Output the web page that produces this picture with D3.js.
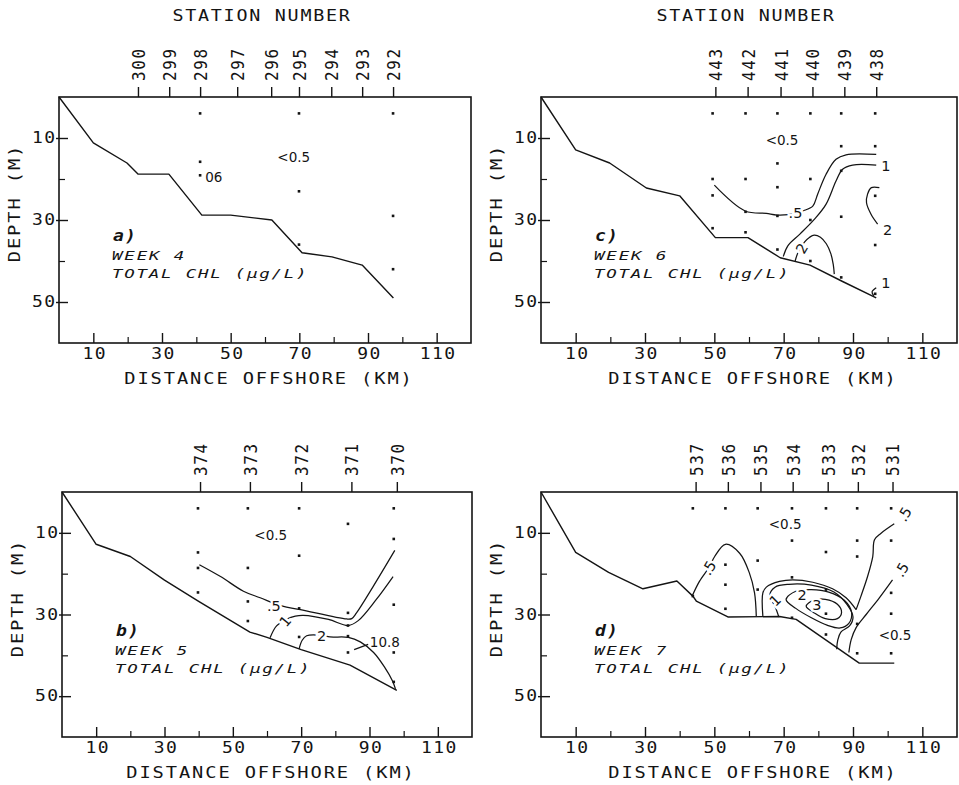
<!DOCTYPE html>
<html><head><meta charset="utf-8">
<script src="https://cdn.jsdelivr.net/npm/d3@7"></script>
<style>
body{margin:0;background:#fff;}
svg{display:block;background:#fff;}
</style></head><body>
<svg id="chart" width="959" height="785"></svg>
<script>
// ---------------- data ----------------
const xMajorTicks = [10,30,50,70,90,110];
const xMinorTicks = [20,40,60,80,100];
const yMajorTicks = [10,30,50];
const yMinorTicks = [20,40];

// panel a) week 4
const stationsA = ["300","299","298","297","296","295","294","293","292"];
const stationKmA = [23.0,32.1,41.1,51.9,61.8,69.9,79.3,88.3,97.3];
const bottomA = [[0,0],[10,11.2],[19.8,16.1],[23,18.8],[32,18.8],[41.6,28.8],[50,28.8],[62,30],[70.8,38],[79.5,39],[88.3,41],[97.4,49]];
const samplesA = [[41.1,4],[41.1,15.8],[41.1,19.1],[69.9,4],[69.9,23],[69.9,36],[97.3,4],[97.3,29],[97.3,42]];
const contoursA = [];
const labelsA = [
  {text:"<0.5", km:63.6, depth:15.9},
  {text:"06", km:42.6, depth:20.8}
];

// panel b) week 5
const stationsB = ["374","373","372","371","370"];
const stationKmB = [40.4,55,70,84.7,98];
const bottomB = [[0,0],[10,12.8],[20,15.8],[30,21.6],[40,26.8],[50,31.8],[55,34.3],[60,35.6],[70,38.6],[84.3,42.4],[98,48.6]];
const samplesB = [[39.8,4],[39.8,14.8],[39.8,18.6],[39.8,24.6],[54.4,4],[54.4,18.6],[54.4,26.8],[54.4,31.6],[69.4,4],[69.4,15.6],[69.4,28.5],[69.4,35.5],[83.7,7.8],[83.7,29.6],[83.7,32.7],[83.7,35.3],[83.7,39.3],[97.1,4],[97.1,11.5],[97.1,27.6],[97.1,39.3],[97.1,46.5]];
const contoursB = [
  {level:".5", pts:[[40.2,17.8],[46.4,20.7],[53.1,24.3],[58,25.9],[64.3,27.9],[69.8,28.8],[83.3,31.1],[84.8,31],[86.2,29.6],[91.1,23.1],[97.4,14.3]]},
  {level:"1", pts:[[60.9,35.7],[62.8,32.8],[65.7,31.2],[68.3,30.4],[70.6,30.2],[78,31.2],[83.8,32.7],[86.7,31.5],[92,26.3],[96.9,20.7]]},
  {level:"2", pts:[[69.4,38.4],[70.3,36.3],[71.6,35.2],[76,35.1],[78.4,35.5],[83.8,35.6],[87.3,36.7],[91.2,39.3],[94.5,43],[96.7,46.2],[97.6,48.2]]},
  {level:"leader", pts:[[85.5,38.6],[89.6,37.3]]}
];
const labelsB = [
  {text:"<0.5", km:56.3, depth:11.7},
  {text:".5", km:62, depth:27.8, halo:true, mid:true},
  {text:"1", km:65.3, depth:31.6, halo:true, mid:true, rot:-50},
  {text:"2", km:76, depth:35.3, halo:true, mid:true},
  {text:"10.8", km:90.1, depth:38}
];

// panel c) week 6
const stationsC = ["443","442","441","440","439","438"];
const stationKmC = [50.3,59.6,69.1,78.3,87.5,96.7];
const bottomC = [[0,0],[10,12.9],[19.8,16.1],[30.4,22.2],[40,24.1],[50.3,34.3],[59.7,34.3],[69,39.2],[77.6,41],[87,45],[96.7,49]];
const samplesC = [[49.5,4],[49.5,20],[49.5,24],[49.5,32],[59,4],[59,20],[59,28],[59,33],[68.2,4],[68.2,16.2],[68.2,22],[68.2,29],[68.2,37.2],[77.7,4],[77.7,20],[77.7,30],[77.7,40],[86.6,4],[86.6,12],[86.6,18],[86.6,29.2],[86.6,44],[96.4,4],[96.4,12],[96.4,24.1],[96.4,36.1],[96.4,48]];
const contoursC = [
  {level:".5", pts:[[50,21.5],[58.9,27.8],[65,28.4],[68.1,28.8],[73.6,28.4],[75.5,27.8],[78.4,26.6],[79.8,23.7],[82.2,18.9],[85.1,15.2],[88,14.1],[96.7,14]]},
  {level:"1", pts:[[96.7,16.6],[89.9,16.6],[87,17.6],[85.1,20.5],[82.2,26.2],[78.9,29.8],[74.6,33.5],[71.2,36.3],[69.9,38.9]]},
  {level:"2", pts:[[73.3,40],[74.3,37.6],[76,35.4],[77.5,34.2],[78.8,33.7],[80.6,34.2],[82.3,35.8],[83.6,38.2],[84.3,40.8],[84.6,43.2]]},
  {level:"2", pts:[[97.6,22.1],[95.3,22.1],[94.2,23.7],[93.9,25.8],[95.2,28.6],[97.1,31]]},
  {level:"1", pts:[[96.7,46.5],[95.5,47.5],[96,48.5]]}
];
const labelsC = [
  {text:"<0.5", km:64.8, depth:11.7},
  {text:".5", km:73.4, depth:28.3, halo:true, mid:true},
  {text:"1", km:99.5, depth:16.8, mid:true},
  {text:"2", km:100, depth:32.3, mid:true},
  {text:"1", km:99.5, depth:45.3, mid:true},
  {text:"2", km:75.2, depth:36.9, halo:true, mid:true, rot:-60}
];

// panel d) week 7
const stationsD = ["537","536","535","534","533","532","531"];
const stationKmD = [44.6,53.9,63.3,72.6,82.7,91.4,101.4];
const bottomD = [[0,0],[10,14.8],[19.5,19.7],[29.4,23.7],[39.2,21.8],[43.8,25.5],[44.8,26.7],[53.9,30.6],[68.8,30.5],[73.6,31.2],[91.8,41.9],[101.9,41.9]];
const samplesD = [[43.8,4],[43.8,25.5],[53.2,4],[53.2,17.8],[53.2,22.7],[53.2,28.6],[62.5,4],[62.5,16.8],[62.5,23.9],[72.4,4],[72.4,11.9],[72.4,20.9],[72.4,30.8],[82.2,4],[82.2,14.7],[82.2,23.9],[82.2,29.8],[82.2,34.9],[91.2,4],[91.2,11.9],[91.2,15.8],[91.2,32.3],[91.2,39.5],[101,4],[101,11.9],[101,24.7],[101,29.8],[101,39.5]];
const contoursD = [
  {level:".5", pts:[[43.6,25.5],[45.7,21.9],[48.6,18.3],[50.1,15.8],[53.2,12.8],[57.3,15],[60.1,19.8],[61.6,24.7],[62.1,30.4]]},
  {level:".5", pts:[[64,30.4],[64,24.7],[65,23.3],[68.8,21.9],[72.6,21.5],[78.4,22.1],[84.1,23.7],[88,25.9],[90.9,28.8]]},
  {level:".5", pts:[[90.9,28.8],[92.3,25.5],[94.2,20.7],[95.7,15.8],[96.2,11.7],[98.1,10.1],[101.9,7.8]]},
  {level:".5", pts:[[88.8,39.3],[89.5,36.1],[90.9,33.2],[93.8,30],[97.6,25.9],[101.4,21.5]]},
  {level:"1", pts:[[68.6,30.6],[67.5,28],[66,25.3],[67.5,23.3],[71.5,22.6],[78,22.8],[84.5,24.5],[88.3,27.6],[90,30.6],[89,32.8],[86.5,34.3],[85.6,36.3],[85.3,38.5]]},
  {level:"2", closed:true, pts:[[70.7,26.3],[73.5,24.3],[78,23.9],[83,24.5],[87.5,26.5],[89.6,29.5],[88.8,32.2],[86.3,33.3],[82.5,32.6],[78,30.8],[73.5,28.5]]},
  {level:"3", closed:true, pts:[[76.5,28],[78.5,26.5],[82,26.3],[85.5,27.5],[86.7,29.5],[85.5,31],[82,31],[78.8,29.6]]}
];
const labelsD = [
  {text:"<0.5", km:65.7, depth:9},
  {text:"<0.5", km:97.4, depth:36.3},
  {text:".5", km:48.4, depth:18.6, halo:true, mid:true, rot:-60},
  {text:".5", km:104.8, depth:5.4, mid:true, rot:-60},
  {text:".5", km:104, depth:19, mid:true, rot:-60},
  {text:"1", km:67.5, depth:26.5, halo:true, mid:true, rot:-45},
  {text:"2", km:75.3, depth:25.1, halo:true, mid:true},
  {text:"3", km:79.6, depth:27.7, halo:true, mid:true}
];

// ---------------- layout ----------------
const panels = [
  {tag:"a)", week:"WEEK 4", left:59, right:471, top:97, bottom:343, stations:stationsA, stationKm:stationKmA, bottomLine:bottomA, samples:samplesA, contours:contoursA, labels:labelsA, stationTitle:true},
  {tag:"b)", week:"WEEK 5", left:62, right:472, top:492, bottom:737, stations:stationsB, stationKm:stationKmB, bottomLine:bottomB, samples:samplesB, contours:contoursB, labels:labelsB, stationTitle:false},
  {tag:"c)", week:"WEEK 6", left:541, right:957, top:97, bottom:343, stations:stationsC, stationKm:stationKmC, bottomLine:bottomC, samples:samplesC, contours:contoursC, labels:labelsC, stationTitle:true},
  {tag:"d)", week:"WEEK 7", left:541, right:957, top:492, bottom:737, stations:stationsD, stationKm:stationKmD, bottomLine:bottomD, samples:samplesD, contours:contoursD, labels:labelsD, stationTitle:false}
];

const MONO = "'DejaVu Sans Mono', 'Liberation Mono', monospace";
const SANS = "'DejaVu Sans', 'Liberation Sans', sans-serif";
const INK = "#141414";

const svg = d3.select("#chart");

// text drawn with a horizontal stretch (plotter lettering is wider than tall)
function wideText(g, x, y, str, o) {
  const t = g.append("text")
    .attr("transform", `translate(${x},${y})` + (o.rot ? ` rotate(${o.rot})` : "") + ` scale(${o.sx || 1},1)`)
    .attr("font-family", o.family || MONO).attr("font-size", o.size)
    .attr("letter-spacing", o.ls || 0).attr("fill", INK)
    .attr("text-anchor", o.anchor || "start").text(str);
  if (o.italic) t.attr("font-style", "italic");
  if (o.bold) t.attr("font-weight", "bold");
  return t;
}

panels.forEach(p => {
  const x = d3.scaleLinear().domain([0,120]).range([p.left, p.right]);
  const y = d3.scaleLinear().domain([0,60]).range([p.top, p.bottom]);
  const g = svg.append("g");

  // bottom axis: major ticks with labels, minor without (ticks point inward)
  const bx = g.append("g").attr("transform", `translate(0,${p.bottom})`)
    .call(d3.axisBottom(x).tickValues(xMajorTicks).tickSizeInner(-10).tickSizeOuter(0).tickPadding(5));
  bx.select(".domain").remove();
  bx.selectAll("line").attr("stroke", INK).attr("stroke-width", 1.4);
  bx.selectAll("text").attr("font-family", MONO).attr("font-size", 15).attr("letter-spacing", 1.2)
    .attr("fill", INK).attr("transform", "scale(1.2,1)").attr("x", 0.8);
  const bxm = g.append("g").attr("transform", `translate(0,${p.bottom})`)
    .call(d3.axisBottom(x).tickValues(xMinorTicks).tickSizeInner(-6).tickSizeOuter(0).tickFormat(""));
  bxm.select(".domain").remove();
  bxm.selectAll("line").attr("stroke", INK).attr("stroke-width", 1.2);

  // left axis
  const ly = g.append("g").attr("transform", `translate(${p.left},0)`)
    .call(d3.axisLeft(y).tickValues(yMajorTicks).tickSizeInner(-9).tickSizeOuter(0).tickPadding(4));
  ly.select(".domain").remove();
  ly.selectAll("line").attr("x1", -3).attr("stroke", INK).attr("stroke-width", 1.4);
  ly.selectAll("text").attr("font-family", MONO).attr("font-size", 15).attr("letter-spacing", 1.2)
    .attr("fill", INK).attr("x", -2).attr("transform", "scale(1.2,1)");
  const lym = g.append("g").attr("transform", `translate(${p.left},0)`)
    .call(d3.axisLeft(y).tickValues(yMinorTicks).tickSizeInner(-6).tickSizeOuter(0).tickFormat(""));
  lym.select(".domain").remove();
  lym.selectAll("line").attr("stroke", INK).attr("stroke-width", 1.2);

  // top axis: station numbers
  const tx = g.append("g").attr("transform", `translate(0,${p.top})`)
    .call(d3.axisTop(x).tickValues(p.stationKm).tickSizeInner(10).tickSizeOuter(0)
      .tickFormat((d,i) => p.stations[i]));
  tx.select(".domain").remove();
  tx.selectAll("line").attr("stroke", INK).attr("stroke-width", 1.4);
  tx.selectAll("text").attr("font-family", MONO).attr("font-size", 16).attr("letter-spacing", 1.6)
    .attr("fill", INK).attr("transform", "rotate(-90) scale(1,1.12)").attr("text-anchor", "start")
    .attr("x", 16).attr("y", 0).attr("dy", "0.36em");

  // frame
  g.append("rect").attr("x", p.left).attr("y", p.top)
    .attr("width", p.right - p.left).attr("height", p.bottom - p.top)
    .attr("fill", "none").attr("stroke", INK).attr("stroke-width", 1.6);

  // titles
  if (p.stationTitle) {
    wideText(g, (p.left + p.right)/2 - 3, 21, "STATION NUMBER", {size:16, sx:1.15, ls:1.5, anchor:"middle"});
  }
  wideText(g, (p.left + p.right)/2 + 4, p.bottom + 41, "DISTANCE OFFSHORE (KM)", {size:15, sx:1.25, ls:1.5, anchor:"middle"});
  wideText(g, p.left - 39, p.top + 106, "DEPTH (M)", {size:15, sx:1.25, ls:1.5, anchor:"middle", rot:-90});

  // bathymetry
  const line = d3.line().x(d => x(d[0])).y(d => y(d[1]));
  g.append("path").datum(p.bottomLine).attr("d", line)
    .attr("fill", "none").attr("stroke", INK).attr("stroke-width", 1.4).attr("stroke-linejoin", "round");

  // contours
  const openLine = d3.line().x(d => x(d[0])).y(d => y(d[1])).curve(d3.curveCatmullRom.alpha(0.5));
  const closedLine = d3.line().x(d => x(d[0])).y(d => y(d[1])).curve(d3.curveCatmullRomClosed.alpha(0.5));
  p.contours.forEach(c => {
    g.append("path").datum(c.pts).attr("d", c.closed ? closedLine : (c.level === "leader" ? line : openLine))
      .attr("fill", "none").attr("stroke", INK).attr("stroke-width", 1.25);
  });

  // sample points
  g.selectAll(null).data(p.samples).join("rect")
    .attr("x", d => x(d[0]) - 1.3).attr("y", d => y(d[1]) - 1.3)
    .attr("width", 2.6).attr("height", 2.6).attr("fill", INK);

  // contour / value labels
  p.labels.forEach(l => {
    const t = g.append("text")
      .attr("transform", `translate(${x(l.km)},${y(l.depth)})` + (l.rot ? ` rotate(${l.rot})` : ""))
      .attr("font-family", SANS).attr("font-size", l.mid ? 14.5 : 13.5).attr("fill", INK)
      .attr("text-anchor", l.mid ? "middle" : "start")
      .attr("dy", l.mid ? "0.36em" : "0")
      .text(l.text);
    if (l.halo) t.attr("stroke", "#fff").attr("stroke-width", 5).attr("paint-order", "stroke");
  });

  // panel annotation
  const ax = p.left + 53;
  const base = p.top + 144;
  wideText(g, ax + 1, base, p.tag, {size:15, sx:1.2, ls:1, italic:true, bold:true});
  wideText(g, ax, base + 19, p.week, {size:12.5, sx:1.4, ls:1.3, italic:true});
  wideText(g, ax, base + 37, "TOTAL CHL (µg/L)", {size:12.5, sx:1.4, ls:1.25, italic:true});
});
</script>
</body></html>
